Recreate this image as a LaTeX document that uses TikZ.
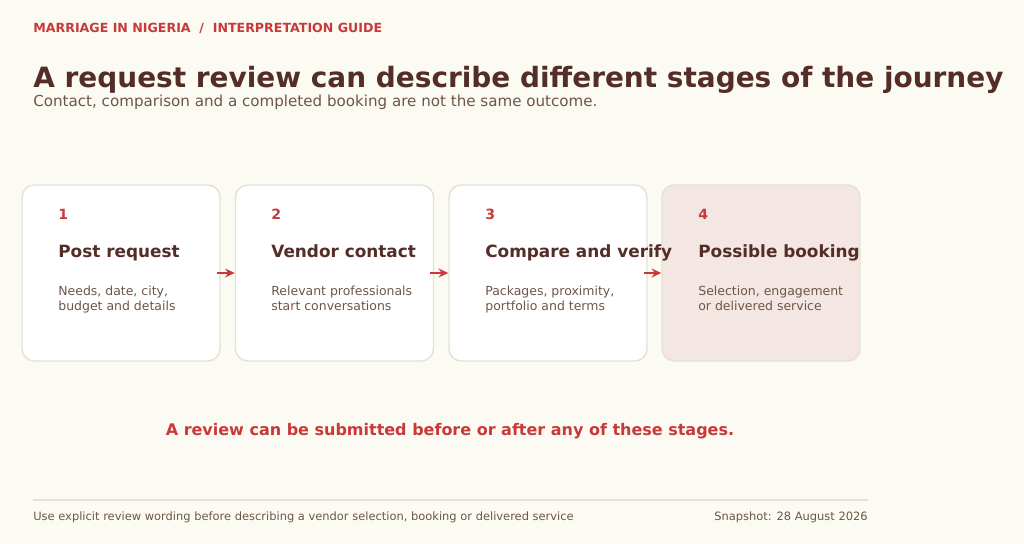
\documentclass[tikz,border=0pt]{standalone}
\usepackage{fontspec}
\setmainfont{DejaVu Sans}
\usetikzlibrary{arrows.meta,positioning}
\definecolor{bgc}{HTML}{FBFBF3}
\definecolor{ink}{HTML}{532D26}
\definecolor{accent}{HTML}{C8393A}
\definecolor{soft}{HTML}{6E5548}
\definecolor{edge}{HTML}{E5E2D3}
\definecolor{hilite}{HTML}{F4E6E2}
\tikzset{
  card/.style={draw=edge,line width=0.8pt,fill=white,rounded corners=7pt,
    minimum width=198*0.02cm,minimum height=176*0.02cm,inner sep=0pt},
  num/.style={anchor=base west,inner sep=0pt,text=accent,font=\bfseries\fontsize{8}{9}\selectfont},
  head/.style={anchor=base west,inner sep=0pt,text=ink,font=\bfseries\fontsize{9.6}{11}\selectfont},
  desc/.style={anchor=north west,inner sep=0pt,text=soft,align=left,
    font=\fontsize{7.1}{8.6}\selectfont},
  flow/.style={-{Stealth[length=5.5pt,width=5pt]},accent,line width=1pt}
}
\begin{document}
\begin{tikzpicture}[x=0.02cm,y=-0.02cm]
\fill[bgc] (0,0) rectangle (1024,544);
\useasboundingbox (0,0) rectangle (1024,544);
\node[anchor=base west,inner sep=0pt,text=accent,font=\bfseries\fontsize{7.17}{9}\selectfont]
  (kicker) at (33,33) {MARRIAGE IN NIGERIA \ / \ INTERPRETATION GUIDE};
\node[anchor=base west,inner sep=0pt,text=ink,font=\bfseries\fontsize{15.9}{18}\selectfont]
  (title) at (33,88) {A request review can describe different stages of the journey};
\node[anchor=base west,inner sep=0pt,text=soft,font=\fontsize{8.6}{10}\selectfont]
  (sub) at (33,107) {Contact, comparison and a completed booking are not the same outcome.};
% cards
\node[card] (c1) at (121,273) {};
\node[card] (c2) at (334.5,273) {};
\node[card] (c3) at (548,273) {};
\node[card,fill=hilite] (c4) at (761,273) {};
\foreach \i/\x/\t/\d in {1/58/Post request/{Needs, date, city,\\budget and details},
  2/271/Vendor contact/{Relevant professionals\\start conversations},
  3/485/Compare and verify/{Packages, proximity,\\portfolio and terms},
  4/698/Possible booking/{Selection, engagement\\or delivered service}}{
  \node[num] (n\i) at (\x,219) {\i};
  \node[head] (h\i) at (\x,257) {\t};
  \node[desc] (d\i) at (\x,286) {\d};
}
\foreach \a/\b in {c1/c2,c2/c3,c3/c4}
  \draw[flow] ([xshift=-4*0.02cm]\a.east) -- (\b.west);
\node[text=accent,font=\bfseries\fontsize{9.1}{11}\selectfont,inner sep=0pt]
  (note) at (450,431) {A review can be submitted before or after any of these stages.};
\coordinate (r1) at (33,500);
\coordinate (r2) at (868,500);
\draw[edge,line width=0.8pt] (r1) -- (r2);
\node[anchor=base west,inner sep=0pt,text=soft,font=\fontsize{6.52}{8}\selectfont]
  (foot) at (33,520) {Use explicit review wording before describing a vendor selection, booking or delivered service};
\node[anchor=base east,inner sep=0pt,text=soft,font=\fontsize{6.52}{8}\selectfont]
  (snap) at (868,520) {Snapshot: 28 August 2026};
\end{tikzpicture}
\end{document}
